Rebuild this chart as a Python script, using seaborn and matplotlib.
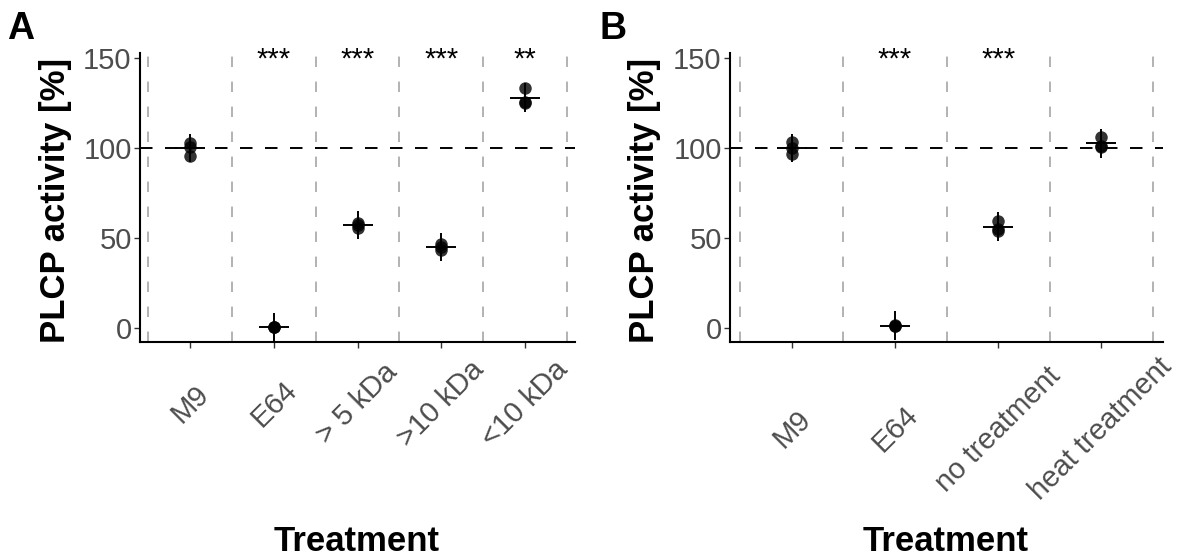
import matplotlib
matplotlib.use("Agg")
import matplotlib.pyplot as plt
import seaborn as sns
import pandas as pd
import numpy as np

# ---------------- data ----------------
cats_a = ["M9", "E64", "> 5 kDa", ">10 kDa", "<10 kDa"]
reps_a = [
    [103.0, 100.5, 95.5],
    [0.5, 0.8, 0.3],
    [58.5, 57.0, 55.4],
    [46.5, 45.0, 43.3],
    [133.5, 125.5, 125.0],
]
mean_a = [100.0, 0.5, 57.0, 45.0, 128.0]
err_a = [8.0, 7.8, 7.8, 8.0, 8.0]
sig_a = ["", "***", "***", "***", "**"]

cats_b = ["M9", "E64", "no treatment", "heat treatment"]
reps_b = [
    [103.5, 100.0, 96.5],
    [1.3, 1.5, 1.1],
    [59.5, 55.0, 54.0],
    [106.3, 101.0, 100.5],
]
mean_b = [100.0, 1.3, 56.2, 102.6]
err_b = [8.0, 8.0, 8.0, 8.2]
sig_b = ["", "***", "***", ""]

yticks = [0, 50, 100, 150]
ylabel = "PLCP activity [%]"
xlabel = "Treatment"

# ---------------- style ----------------
sns.set_theme(style="white")
plt.rcParams["font.family"] = ["Liberation Sans", "DejaVu Sans"]
plt.rcParams["lines.scale_dashes"] = False
plt.rcParams["text.color"] = "black"

W, H = 1184, 556
fig = plt.figure(figsize=(W / 100, H / 100), dpi=100)


def px_box(left, top, right, bottom):
    return [left / W, 1 - bottom / H, (right - left) / W, (bottom - top) / H]


def panel(box, cats, reps, means, errs, sigs, label_offset_px, xlim_hi):
    ax = fig.add_axes(box)
    df = pd.DataFrame(
        [(c, v) for c, vals in zip(cats, reps) for v in vals],
        columns=["treatment", "activity"],
    )
    n = len(cats)
    # vertical grey dashed separators
    for k in range(n + 1):
        ax.axvline(k - 0.5, color="#a6a6a6", lw=1.2, ls=(0, (7.5, 10.5)), zorder=0)
    # reference line
    ax.axhline(100, color="black", lw=1.4, ls=(0, (9, 9)), zorder=1)
    sns.stripplot(
        data=df, x="treatment", y="activity", order=cats, jitter=False,
        color="black", alpha=0.8, size=9, linewidth=0, ax=ax, zorder=3,
    )
    pos = np.arange(n)
    m = np.array(means)
    e = np.array(errs)
    ax.vlines(pos, m - e, m + e, color="black", lw=1.4, zorder=4)
    ax.plot(pos, m, ls="none", marker="_", markersize=21.5, mew=1.4,
            color="black", zorder=4)
    for k, s in enumerate(sigs):
        if s:
            ax.text(k, 144.5, s, ha="center", va="baseline", fontsize=21,
                    color="black")
    ax.set_xlim(-0.6, xlim_hi)
    ax.set_ylim(-7.8, 152.8)
    ax.set_yticks(yticks)
    ax.set_xlabel("")
    ax.set_ylabel("")
    for sp in ["top", "right"]:
        ax.spines[sp].set_visible(False)
    for sp in ["left", "bottom"]:
        ax.spines[sp].set_color("black")
        ax.spines[sp].set_linewidth(1.5)
    ax.tick_params(axis="y", length=4, width=1.0, color="#333333", pad=2,
                   labelsize=21, labelcolor="#4d4d4d", left=True)
    ticklen = 4
    pad = label_offset_px * 0.72 - ticklen
    ax.tick_params(axis="x", length=ticklen, width=1.0, color="#333333",
                   pad=pad, labelsize=21, labelcolor="#4d4d4d", bottom=True)
    for t in ax.get_xticklabels():
        t.set_rotation(45)
        t.set_rotation_mode("anchor")
        t.set_ha("center")
        t.set_va("center")
    for t in ax.get_yticklabels():
        t.set_va("center_baseline")
    return ax


axA = panel(px_box(140, 53, 575, 342), cats_a, reps_a, mean_a, err_a, sig_a,
            62, 4.6)
axB = panel(px_box(730, 53, 1163, 342), cats_b, reps_b, mean_b, err_b, sig_b,
            87, 3.6)

# axis titles
for cx in [357, 946]:
    fig.text(cx / W, 1 - 551 / H, xlabel, ha="center", va="baseline",
             fontsize=25, fontweight="bold", color="black")
for cx in [56, 644]:
    fig.text(cx / W, 1 - 200 / H, ylabel, ha="center", va="center",
             rotation=90, fontsize=25, fontweight="bold", color="black")

# panel tags
fig.text(7 / W, 1 - 11 / H, "A", ha="left", va="top", fontsize=27,
         fontweight="bold", color="black")
fig.text(600 / W, 1 - 11 / H, "B", ha="left", va="top", fontsize=27,
         fontweight="bold", color="black")

fig.savefig("out.png", dpi=100, facecolor="white")
